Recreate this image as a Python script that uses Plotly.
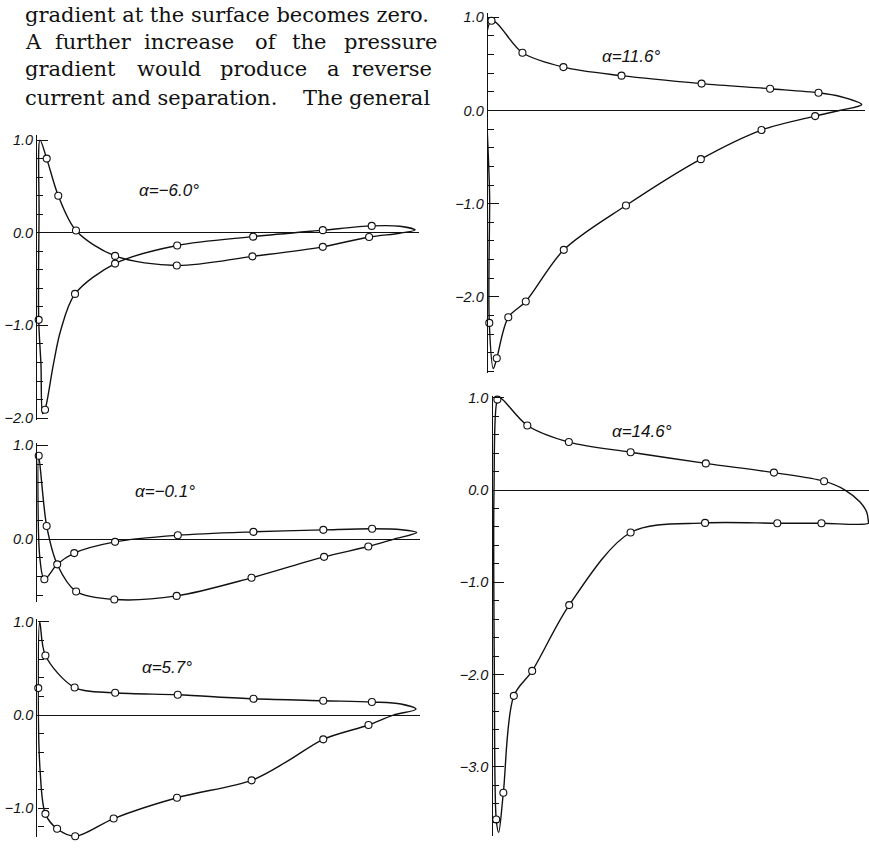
import plotly.graph_objects as go

W, H = 869, 848

# ---------------- data (chord fraction, pressure coefficient) ----------------
# Panel A: alpha = -6.0 deg  (closed loop: trailing edge -> suction side -> nose -> pressure side -> TE)
a_line_x = [1.0, 0.96, 0.885, 0.755, 0.570, 0.368, 0.203, 0.0965, 0.058, 0.039, 0.0168, 0.0106, 0.006, 0.0, 0.001, 0.0035,
            0.0213, 0.052, 0.099, 0.203, 0.367, 0.568, 0.755, 0.878, 0.96, 1.0]
a_line_y = [0.03, 0.07, 0.074, 0.028, -0.042, -0.138, -0.333, -0.66, -1.06, -1.42, -1.91, -1.95, -1.42, -0.94, 0.2, 1.0,
            0.80, 0.40, 0.025, -0.25, -0.354, -0.255, -0.152, -0.046, -0.005, 0.03]
a_pts_x = [0.885, 0.755, 0.570, 0.368, 0.203, 0.0965, 0.0168, 0.0, 0.0213, 0.052, 0.099, 0.203, 0.367, 0.568, 0.755, 0.878]
a_pts_y = [0.074, 0.028, -0.042, -0.138, -0.333, -0.66, -1.91, -0.94, 0.80, 0.40, 0.025, -0.25, -0.354, -0.255, -0.152, -0.046]

# Panel B: alpha = -0.1 deg
b_line_x = [1.0, 0.96, 0.882, 0.753, 0.568, 0.368, 0.202, 0.094, 0.049, 0.015, 0.003, 0.0,
            0.021, 0.05, 0.099, 0.20, 0.365, 0.563, 0.755, 0.872, 0.94, 1.0]
b_line_y = [0.07, 0.10, 0.11, 0.098, 0.077, 0.04, -0.03, -0.15, -0.27, -0.43, -0.2, 0.89,
            0.14, -0.28, -0.56, -0.645, -0.607, -0.414, -0.19, -0.08, 0.0, 0.07]
b_pts_x = [0.882, 0.753, 0.568, 0.368, 0.202, 0.094, 0.049, 0.015, 0.0, 0.021, 0.099, 0.20, 0.365, 0.563, 0.755, 0.872]
b_pts_y = [0.11, 0.098, 0.077, 0.04, -0.03, -0.15, -0.27, -0.43, 0.89, 0.14, -0.56, -0.645, -0.607, -0.414, -0.19, -0.08]

# Panel C: alpha = 5.7 deg
c_line_x = [1.0, 0.96, 0.883, 0.754, 0.569, 0.368, 0.202, 0.0945, 0.017, 0.002, -0.002, 0.003,
            0.017, 0.048, 0.096, 0.198, 0.366, 0.564, 0.657, 0.754, 0.874, 0.94, 1.0]
c_line_y = [0.063, 0.12, 0.141, 0.155, 0.176, 0.218, 0.24, 0.296, 0.64, 1.0, 0.29, -0.6,
            -1.06, -1.22, -1.30, -1.11, -0.887, -0.70, -0.50, -0.26, -0.106, 0.0, 0.063]
c_pts_x = [0.883, 0.754, 0.569, 0.368, 0.202, 0.0945, 0.017, -0.002, 0.017, 0.048, 0.096, 0.198, 0.366, 0.564, 0.754, 0.874]
c_pts_y = [0.141, 0.155, 0.176, 0.218, 0.24, 0.296, 0.64, 0.29, -1.06, -1.22, -1.30, -1.11, -0.887, -0.70, -0.26, -0.106]

# Panel D: alpha = 11.6 deg
d_line_x = [1.0, 0.942, 0.884, 0.754, 0.570, 0.355, 0.199, 0.089, 0.006, 0.001, 0.0, 0.011, 0.02,
            0.051, 0.098, 0.2, 0.367, 0.568, 0.731, 0.875, 0.94, 1.0]
d_line_y = [0.063, 0.15, 0.19, 0.233, 0.289, 0.374, 0.466, 0.62, 0.963, -1.0, -2.28, -2.77, -2.66,
            -2.22, -2.05, -1.496, -1.02, -0.522, -0.21, -0.06, 0.0, 0.063]
d_pts_x = [0.884, 0.754, 0.570, 0.355, 0.199, 0.089, 0.006, 0.0, 0.02, 0.051, 0.098, 0.2, 0.367, 0.568, 0.731, 0.875]
d_pts_y = [0.19, 0.233, 0.289, 0.374, 0.466, 0.62, 0.963, -2.28, -2.66, -2.22, -2.05, -1.496, -1.02, -0.522, -0.21, -0.06]

# Panel E: alpha = 14.6 deg
e_line_x = [1.0, 0.875, 0.757, 0.564, 0.365, 0.201, 0.102, 0.053, 0.025, 0.0125, 0.006, 0.001, 0.0, 0.009, 0.016,
            0.089, 0.2, 0.365, 0.566, 0.748, 0.882, 0.938, 0.978, 0.996, 1.0, 1.0]
e_line_y = [-0.36, -0.36, -0.36, -0.356, -0.46, -1.247, -1.96, -2.23, -3.28, -3.71, -3.57, -2.0, 0.0, 0.98, 1.0,
            0.70, 0.52, 0.41, 0.289, 0.189, 0.096, 0.0, -0.13, -0.24, -0.33, -0.36]
e_pts_x = [0.875, 0.757, 0.564, 0.365, 0.201, 0.102, 0.053, 0.025, 0.006, 0.009, 0.089, 0.2, 0.365, 0.566, 0.748, 0.882]
e_pts_y = [-0.36, -0.36, -0.356, -0.46, -1.247, -1.96, -2.23, -3.28, -3.57, 0.98, 0.70, 0.52, 0.41, 0.289, 0.189, 0.096]

labels = ["α=−6.0°", "α=−0.1°", "α=5.7°", "α=11.6°", "α=14.6°"]

text_lines = [
    ["gradient at the surface becomes zero."],
    ["A", "further", "increase", "of", "the", "pressure"],
    ["gradient", "would", "produce", "a", "reverse"],
    ["current and separation.", "The", "general"],
]

# ---------------- layout geometry (pixels) ----------------
panels = [
    dict(lx=a_line_x, ly=a_line_y, px=a_pts_x, py=a_pts_y, X0=38.7, X1=415.0, Y0=230.0, U=94.0, yr=[-2.02, 1.05], xr=[-0.004, 1.01], lab=(137, 187)),
    dict(lx=b_line_x, ly=b_line_y, px=b_pts_x, py=b_pts_y, X0=38.7, X1=416.7, Y0=540.7, U=95.0, yr=[-0.67, 1.03], xr=[-0.004, 1.01], lab=(133, 492)),
    dict(lx=c_line_x, ly=c_line_y, px=c_pts_x, py=c_pts_y, X0=39.0, X1=416.0, Y0=719.3, U=94.5, yr=[-1.31, 1.03], xr=[-0.004, 1.01], lab=(140, 671)),
    dict(lx=d_line_x, ly=d_line_y, px=d_pts_x, py=d_pts_y, X0=489.3, X1=861.7, Y0=106.0, U=94.5, yr=[-2.82, 1.05], xr=[-0.004, 1.01], lab=(600, 51)),
    dict(lx=e_line_x, ly=e_line_y, px=e_pts_x, py=e_pts_y, X0=494.0, X1=868.3, Y0=491.0, U=93.6, yr=[-3.75, 1.02], xr=[-0.004, 1.002], lab=(610, 432)),
]

INK = "#111111"
fig = go.Figure()
layout = dict(width=W, height=H, margin=dict(l=0, r=0, t=0, b=0),
              paper_bgcolor="white", plot_bgcolor="rgba(0,0,0,0)", showlegend=False)
annotations = []

for i, p in enumerate(panels):
    k = "" if i == 0 else str(i + 1)
    xa, ya = "x" + k, "y" + k
    ux = p["X1"] - p["X0"]
    xl = p["X0"] + p["xr"][0] * ux
    xrp = p["X0"] + p["xr"][1] * ux
    top = p["Y0"] - p["yr"][1] * p["U"]
    bot = p["Y0"] - p["yr"][0] * p["U"]
    layout["xaxis" + k] = dict(domain=[max(0, xl / W), min(1, xrp / W)], range=p["xr"], anchor=ya,
                               showgrid=False, showline=False, zeroline=False, showticklabels=False, ticks="")
    layout["yaxis" + k] = dict(domain=[max(0, 1 - bot / H), min(1, 1 - top / H)], range=p["yr"], anchor=xa,
                               showgrid=False, showline=True, linecolor=INK, linewidth=1.3,
                               zeroline=True, zerolinecolor=INK, zerolinewidth=1,
                               ticks="inside", ticklen=11, tickwidth=1.2, tickcolor=INK,
                               dtick=1, tick0=0, tickformat=".1f", ticklabelstandoff=0,
                               tickfont=dict(family="Liberation Sans", size=14.5, color=INK, style="italic"),
                               minor=dict(dtick=0.2, tick0=0, ticks="inside", ticklen=6, tickwidth=1, tickcolor=INK))
    fig.add_trace(go.Scatter(x=p["lx"], y=p["ly"], mode="lines", xaxis=xa, yaxis=ya,
                             line=dict(color=INK, width=1.4, shape="spline", smoothing=0.9),
                             hoverinfo="skip"))
    fig.add_trace(go.Scatter(x=p["px"], y=p["py"], mode="markers", xaxis=xa, yaxis=ya, cliponaxis=False,
                             marker=dict(symbol="circle", size=7, color="white", line=dict(color=INK, width=1.1))))
    annotations.append(dict(x=p["lab"][0] / W, y=1 - p["lab"][1] / H, xref="paper", yref="paper",
                            xanchor="left", yanchor="middle", showarrow=False, text=labels[i],
                            font=dict(family="Liberation Sans", size=17, color=INK, style="italic")))

# body text (justified word placement)
serif = dict(family="DejaVu Serif", size=21, color="#111")
text_y = [9, 37, 64, 93]
word_x = [
    [22.7],
    [22.7, 53.3, 141.7, 253.0, 290.0, 341.7],
    [22.7, 135.0, 218.0, 325.0, 350.0],
    [22.7, 301.0, 347.0],
]
for li, words in enumerate(text_lines):
    for w, xx in zip(words, word_x[li]):
        annotations.append(dict(x=xx / W, y=1 - text_y[li] / H, xref="paper", yref="paper",
                                xanchor="left", yanchor="middle", showarrow=False, text=w, font=serif))

layout["annotations"] = annotations
fig.update_layout(**layout)
fig.write_html("out.html")
